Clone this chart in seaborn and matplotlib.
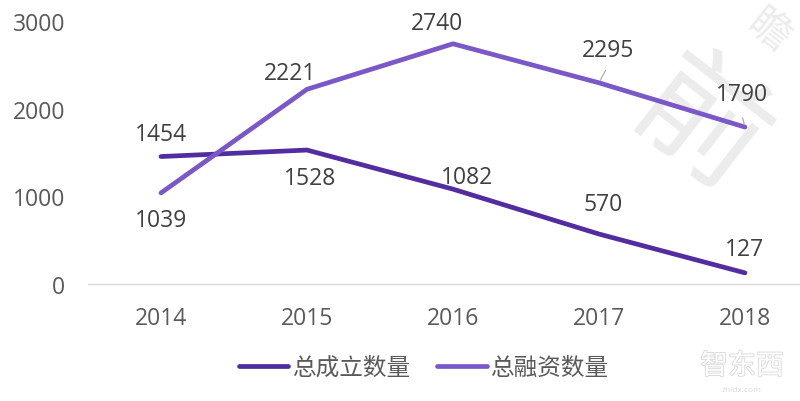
import pandas as pd
import seaborn as sns
import matplotlib.pyplot as plt
import matplotlib.patheffects as pe

years = ['2014', '2015', '2016', '2017', '2018']
founded = [1454, 1528, 1082, 570, 127]
funded = [1039, 2221, 2740, 2295, 1790]
founded_name = '总成立数量'
funded_name = '总融资数量'
y_ticks = [0, 1000, 2000, 3000]

df = pd.DataFrame({
    'year': years * 2,
    'count': founded + funded,
    'series': [founded_name] * 5 + [funded_name] * 5,
})

sns.set_theme(style='white')
plt.rcParams['font.family'] = ['Open Sans', 'Noto Sans CJK SC', 'DejaVu Sans']

fig = plt.figure(figsize=(8, 4.02), dpi=100)
ax = fig.add_axes([88 / 800, 1 - 285 / 402, 712 / 800, 263 / 402], zorder=2)
ax.patch.set_alpha(0)

# watermark goes under the lines
fig.text(698 / 800, 1 - 128 / 402, '前', fontsize=92, color='#ececec', rotation=-38,
         ha='center', va='center', family='Noto Sans CJK SC', zorder=0)
fig.text(768 / 800, 1 - 32 / 402, '瞻', fontsize=30, color='#ececec', rotation=-38,
         ha='center', va='center', family='Noto Sans CJK SC', zorder=0)
fig.text(742 / 800, 1 - 367 / 402, '智东西', fontsize=20, color='#ffffff', ha='center', va='center',
         family='Noto Sans CJK SC', zorder=0,
         path_effects=[pe.withStroke(linewidth=1.2, foreground='#d8d8d8')])
fig.text(742 / 800, 1 - 391 / 402, 'zhidx.com', fontsize=6, color='#d8d8d8', ha='center', va='center', zorder=0)

sns.lineplot(data=df, x='year', y='count', hue='series',
             palette=['#512da0', '#7a58c8'], linewidth=3.4,
             solid_capstyle='round', ax=ax)

ax.set_xlim(-0.5, 4.377)
ax.set_ylim(0, 3000)
ax.set_yticks(y_ticks)
ax.set_xlabel('')
ax.set_ylabel('')
ax.grid(False)
sns.despine(ax=ax, left=True)
ax.spines['bottom'].set_color('#d9d9d9')
ax.spines['bottom'].set_linewidth(1)
ax.tick_params(axis='y', length=0, pad=16.5, labelsize=16.5, labelcolor='#595959')
ax.tick_params(axis='x', length=0, pad=15.5, labelsize=16.5, labelcolor='#595959')

# label offsets in pixels from the point
px = 0.72
founded_off = [(0, 23), (3, -28), (14, 12), (4, 30), (0, 24)]
funded_off = [(0, -27), (-17, 16), (-16, 21), (9, 33), (-3, 33)]
for i, (a, b) in enumerate(zip(founded, funded)):
    ax.annotate(str(a), (i, a), xytext=(founded_off[i][0] * px, founded_off[i][1] * px),
                textcoords='offset points', ha='center', va='center',
                fontsize=16.5, color='#404040')
    ax.annotate(str(b), (i, b), xytext=(funded_off[i][0] * px, funded_off[i][1] * px),
                textcoords='offset points', ha='center', va='center',
                fontsize=16.5, color='#404040')

# leader lines
ax.annotate('', (3, 2295), xytext=(8 * px, 15 * px), textcoords='offset points',
            arrowprops=dict(arrowstyle='-', color='#a6a6a6', lw=0.8))
ax.annotate('', (4, 1790), xytext=(-3 * px, 12 * px), textcoords='offset points',
            arrowprops=dict(arrowstyle='-', color='#a6a6a6', lw=0.8))

handles, labels = ax.get_legend_handles_labels()
ax.legend(handles, labels, loc='center', bbox_to_anchor=(424 / 800, 1 - 369 / 402),
          bbox_transform=fig.transFigure, ncol=2, frameon=False, fontsize=17,
          labelcolor='#595959', handlelength=2.1, handletextpad=0.2, columnspacing=1.1)

plt.savefig('out.png', dpi=100)
